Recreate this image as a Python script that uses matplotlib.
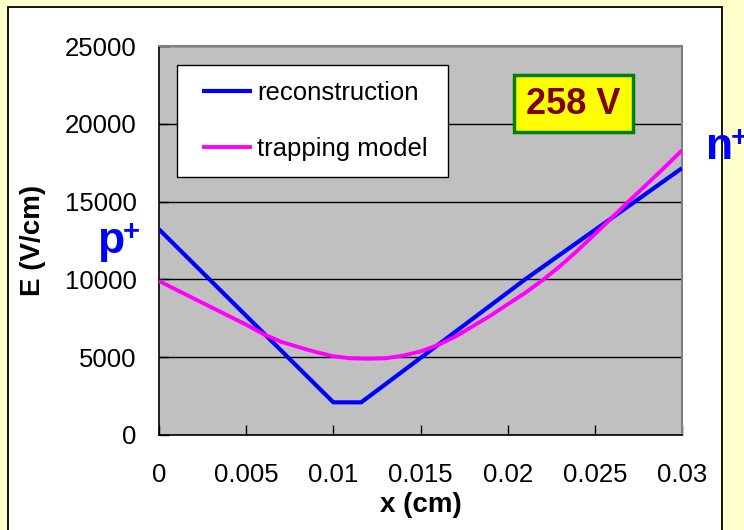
import matplotlib
matplotlib.use("Agg")
from matplotlib import pyplot as plt
from matplotlib.patches import Rectangle
from matplotlib.legend_handler import HandlerLine2D

# field profile across the detector thickness
x_rec = [0, 0.0100, 0.0116, 0.015, 0.021, 0.0273, 0.030]
E_rec = [13220, 2100, 2100, 4950, 10000, 15000, 17150]

x_trap = [0, 0.001, 0.002, 0.003, 0.004, 0.005, 0.006, 0.007, 0.008, 0.009, 0.010,
          0.011, 0.012, 0.013, 0.014, 0.015, 0.016, 0.017, 0.018, 0.019, 0.020,
          0.021, 0.022, 0.023, 0.024, 0.025, 0.026, 0.027, 0.028, 0.029, 0.030]
E_trap = [9900, 9330, 8770, 8210, 7650, 7090, 6480, 5990, 5650, 5330, 5060,
          4930, 4900, 4930, 5100, 5370, 5780, 6320, 6990, 7660, 8400,
          9130, 9950, 10850, 11850, 12900, 13990, 15080, 16130, 17200, 18300]

x_ticks = [0, 0.005, 0.01, 0.015, 0.02, 0.025, 0.03]
x_tick_labels = ["0", "0.005", "0.01", "0.015", "0.02", "0.025", "0.03"]
y_ticks = [0, 5000, 10000, 15000, 20000, 25000]

plt.rcParams['font.family'] = ['Liberation Sans', 'DejaVu Sans']

W, H = 744, 530
fig = plt.figure(figsize=(W / 100, H / 100), dpi=100, facecolor='#FFFFCC')

# white chart area with black frame
frame = Rectangle((8 / W, -0.05), (722 - 8) / W, (523 + 26.5) / H,
                  transform=fig.transFigure, facecolor='white',
                  edgecolor='black', lw=1.3, zorder=0)
fig.add_artist(frame)

ax = fig.add_axes([159 / W, (H - 435) / H, 523 / W, 389 / H])
ax.set_facecolor('#C0C0C0')

ax.plot(x_rec, E_rec, c='#0000FF', lw=3.0, label='reconstruction',
        solid_joinstyle='round', solid_capstyle='butt', zorder=3)
ax.plot(x_trap, E_trap, c='#FF00FF', lw=2.8, label='trapping model',
        solid_joinstyle='round', solid_capstyle='butt', zorder=3)

ax.set_xlim(0, 0.03)
ax.set_ylim(0, 25000)
ax.set_xticks(x_ticks)
ax.set_xticklabels(x_tick_labels)
ax.set_yticks(y_ticks)
ax.yaxis.grid(True, color='black', lw=1.0)
ax.set_axisbelow(True)
ax.tick_params(axis='both', direction='in', length=7, width=1, labelsize=18.5)
ax.tick_params(axis='x', pad=20)
ax.tick_params(axis='y', pad=16)

for side in ['top', 'right']:
    ax.spines[side].set_color('#808080')
    ax.spines[side].set_linewidth(1.5)
for side in ['left', 'bottom']:
    ax.spines[side].set_color('black')
    ax.spines[side].set_linewidth(1.2)

fig.text(421 / W, 1 - 505 / H, "x (cm)", fontsize=20, fontweight='bold',
         ha='center', va='center')
fig.text(33 / W, 1 - 240 / H, "E (V/cm)", fontsize=20, fontweight='bold',
         ha='center', va='center', rotation=90)

# legend box spans a fixed width; handles shifted in from the left edge
leg = ax.legend(loc='upper left',
                bbox_to_anchor=(18 / 523, (435 - 65) / 389, 271 / 523, 0),
                mode='expand', borderaxespad=0, fontsize=18.5, frameon=True,
                fancybox=False, edgecolor='black', framealpha=1,
                handlelength=2.3, handletextpad=0.2, labelspacing=1.25,
                borderpad=0.62,
                handler_map={plt.Line2D: HandlerLine2D(xpad=0.35)})
leg.get_frame().set_linewidth(1.0)

# bias voltage tag
fig.add_artist(Rectangle((514 / W, 1 - 132 / H), 119 / W, 57 / H,
                         transform=fig.transFigure, facecolor='#FFFF00',
                         edgecolor='#008000', lw=2.5, zorder=5))
fig.text(573 / W, 1 - 104 / H, "258 V", fontsize=26, fontweight='bold',
         color='#800000', ha='center', va='center', zorder=6)

# electrode labels
fig.text(97 / W, 1 - 253 / H, "p", fontsize=32, fontweight='bold',
         color='#0000FF', ha='left', va='baseline')
fig.text(123 / W, 1 - 240 / H, "+", fontsize=21, fontweight='bold',
         color='#0000FF', ha='left', va='baseline')
fig.text(706 / W, 1 - 159 / H, "n", fontsize=32, fontweight='bold',
         color='#0000FF', ha='left', va='baseline')
fig.text(731 / W, 1 - 146 / H, "+", fontsize=21, fontweight='bold',
         color='#0000FF', ha='left', va='baseline')

plt.savefig("out.png", dpi=100, facecolor=fig.get_facecolor())
